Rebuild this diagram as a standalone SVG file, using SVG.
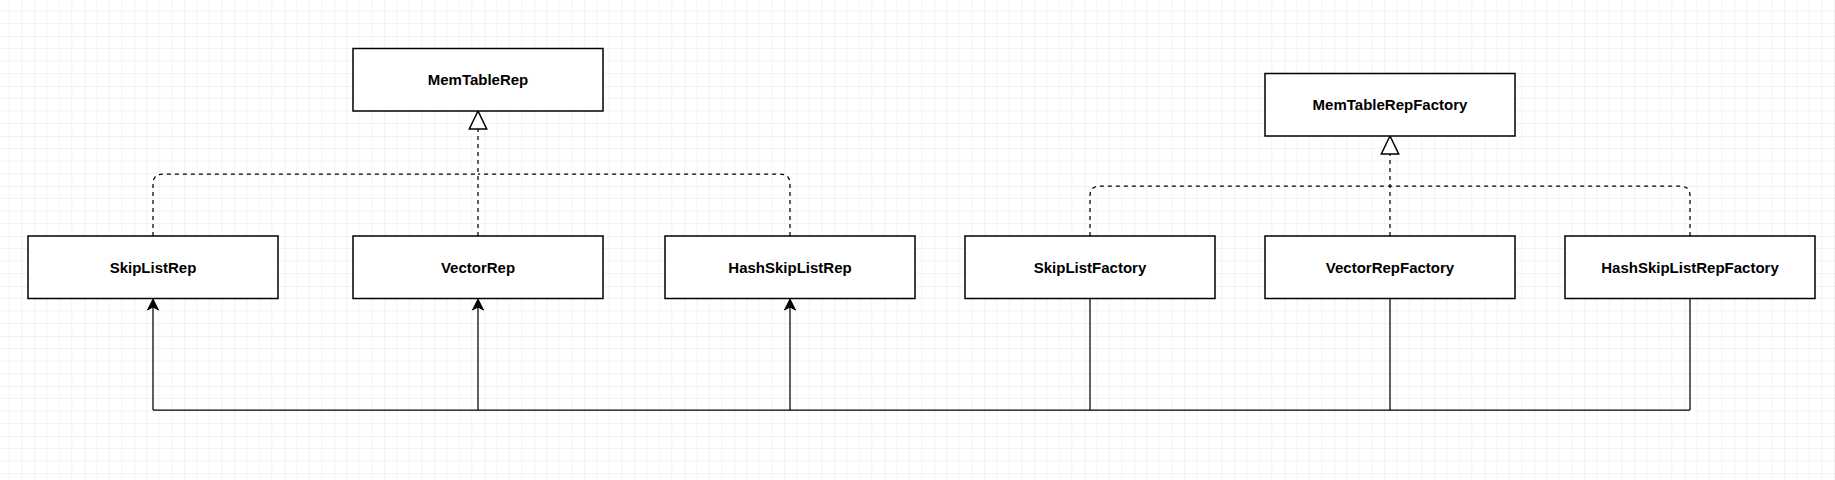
<svg xmlns="http://www.w3.org/2000/svg" width="1835" height="480" viewBox="0 0 1835 480">
<defs>
<pattern id="grid" x="34.3" y="36" width="50" height="50" patternUnits="userSpaceOnUse">
<path d="M12.5,0V50M25,0V50M37.5,0V50M0,12.5H50M0,25H50M0,37.5H50" stroke="#f3f3f3" stroke-width="1" fill="none"/>
<path d="M0,0V50M0,0H50" stroke="#e3e3e3" stroke-width="1" fill="none"/>
</pattern>
<path id="ah" d="M0,0L-5.5,11L0,8L5.5,11Z" fill="#000" stroke="#000" stroke-width="1"/>
</defs>
<style>
.box{fill:#fff;stroke:#000;stroke-width:1.5}
.lbl{font-family:"Liberation Sans",Arial,sans-serif;font-size:15px;font-weight:bold;text-anchor:middle;fill:#000}
.dash{fill:none;stroke:#000;stroke-width:1.25;stroke-dasharray:4 4}
.solid{fill:none;stroke:#000;stroke-width:1.25}
.tri{fill:#fff;stroke:#000;stroke-width:1.5}
</style>
<rect width="1835" height="480" fill="#fff"/>
<rect width="1835" height="480" fill="url(#grid)"/>
<g id="connectors">
<path class="dash" d="M153,236V184Q153,174 163,174H478"/>
<path class="dash" d="M790,236V184Q790,174 780,174H478"/>
<path class="dash" d="M478,236V129"/>
<path class="tri" d="M478,111L469.3,129L486.7,129Z"/>
<path class="dash" d="M1090,236V196Q1090,186 1100,186H1390"/>
<path class="dash" d="M1690,236V196Q1690,186 1680,186H1390"/>
<path class="dash" d="M1390,236V154"/>
<path class="tri" d="M1390,136L1381.3,154L1398.7,154Z"/>
<path class="solid" d="M153,410H1690"/>
<path class="solid" d="M1090,298.5V410"/>
<path class="solid" d="M1390,298.5V410"/>
<path class="solid" d="M1690,298.5V410"/>
<path class="solid" d="M153,410V305"/>
<path class="solid" d="M478,410V305"/>
<path class="solid" d="M790,410V305"/>
<use href="#ah" x="153" y="299"/>
<use href="#ah" x="478" y="299"/>
<use href="#ah" x="790" y="299"/>
</g>
<g id="MemTableRep"><rect class="box" x="353" y="48.5" width="250" height="62.5"/><text class="lbl" x="478" y="85">MemTableRep</text></g>
<g id="MemTableRepFactory"><rect class="box" x="1265" y="73.5" width="250" height="62.5"/><text class="lbl" x="1390" y="110">MemTableRepFactory</text></g>
<g id="SkipListRep"><rect class="box" x="28" y="236" width="250" height="62.5"/><text class="lbl" x="153" y="272.5">SkipListRep</text></g>
<g id="VectorRep"><rect class="box" x="353" y="236" width="250" height="62.5"/><text class="lbl" x="478" y="272.5">VectorRep</text></g>
<g id="HashSkipListRep"><rect class="box" x="665" y="236" width="250" height="62.5"/><text class="lbl" x="790" y="272.5">HashSkipListRep</text></g>
<g id="SkipListFactory"><rect class="box" x="965" y="236" width="250" height="62.5"/><text class="lbl" x="1090" y="272.5">SkipListFactory</text></g>
<g id="VectorRepFactory"><rect class="box" x="1265" y="236" width="250" height="62.5"/><text class="lbl" x="1390" y="272.5">VectorRepFactory</text></g>
<g id="HashSkipListRepFactory"><rect class="box" x="1565" y="236" width="250" height="62.5"/><text class="lbl" x="1690" y="272.5">HashSkipListRepFactory</text></g>
</svg>
